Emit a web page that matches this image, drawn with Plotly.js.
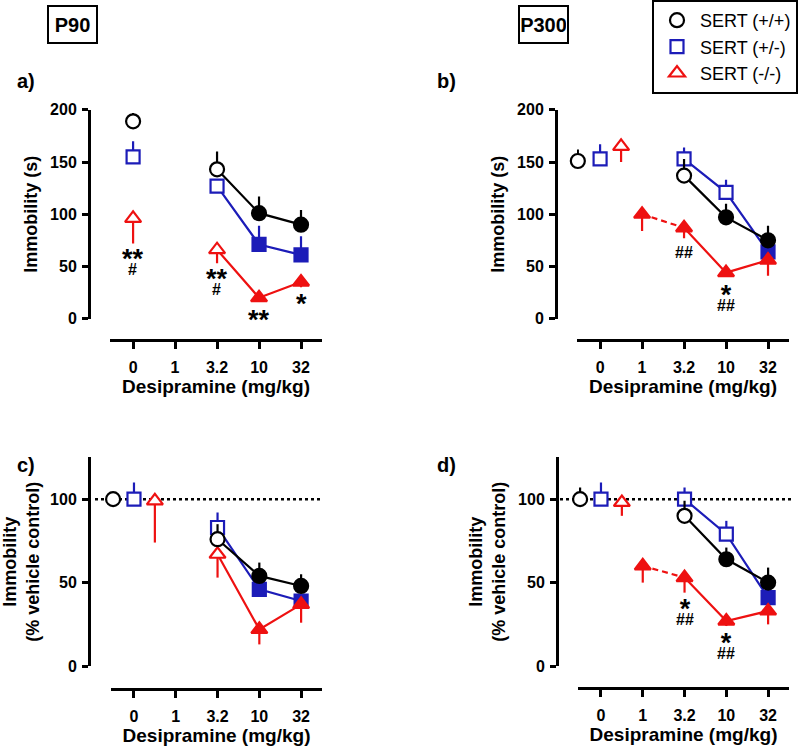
<!DOCTYPE html>
<html>
<head>
<meta charset="utf-8">
<script src="https://cdn.plot.ly/plotly-3.0.1.min.js"></script>
<style>html,body{margin:0;padding:0;background:#fff;}#chart{width:800px;height:747px;}</style>
</head>
<body>
<div id="chart"></div>
<script>
// ---- data (index aligned with doses; index 0 = vehicle) ----
const doses = ['0', '1', '3.2', '10', '32'];
const groups = ['SERT (+/+)', 'SERT (+/-)', 'SERT (-/-)'];

// Panel a: P90, immobility (s)
const a_wt = [189, null, 143, 101, 90];
const a_wt_err = [8, null, 17, 16, 14];
const a_wt_sig = [0, 0, 0, 1, 1];
const a_het = [155, null, 127, 71, 61];
const a_het_err = [15, null, 3, 18, 18];
const a_het_sig = [0, 0, 0, 1, 1];
const a_ko = [96, null, 66, 20, 35];
const a_ko_err = [24, null, 13, 3, 5];
const a_ko_sig = [0, 0, 0, 1, 1];
const a_ko_star = ['**', '', '**', '**', '*'];
const a_ko_hash = ['#', '', '#', '', ''];

// Panel b: P300, immobility (s)
const b_wt = [151, null, 137, 97, 75];
const b_wt_err = [11, null, 16, 13, 14];
const b_wt_sig = [0, 0, 0, 1, 1];
const b_het = [153, null, 153, 121, 64];
const b_het_err = [14, null, 11, 12, 3];
const b_het_sig = [0, 0, 0, 0, 1];
const b_ko = [165, 100, 87, 44, 56];
const b_ko_err = [15, 16, 10, 3, 15];
const b_ko_sig = [0, 1, 1, 1, 1];
const b_ko_star = ['', '', '', '*', ''];
const b_ko_hash = ['', '', '##', '##', ''];

// Panel c: P90, % vehicle control
const c_wt = [100, null, 76, 54, 48];
const c_wt_err = [0, null, 9, 8, 7];
const c_wt_sig = [0, 0, 0, 1, 1];
const c_het = [100, null, 83, 46, 39];
const c_het_err = [10, null, 9, 2, 2];
const c_het_sig = [0, 0, 0, 1, 1];
const c_ko = [99, null, 67, 22, 37];
const c_ko_err = [25, null, 14, 9, 11];
const c_ko_sig = [0, 0, 0, 1, 1];
const c_ko_star = ['', '', '', '', ''];
const c_ko_hash = ['', '', '', '', ''];

// Panel d: P300, % vehicle control
const d_wt = [100, null, 90, 64, 50];
const d_wt_err = [7, null, 9, 7, 9];
const d_wt_sig = [0, 0, 0, 1, 1];
const d_het = [100, null, 100, 79, 41];
const d_het_err = [10, null, 7, 8, 3];
const d_het_sig = [0, 0, 0, 0, 1];
const d_ko = [98, 60, 53, 27, 33];
const d_ko_err = [8, 10, 9, 3, 8];
const d_ko_sig = [0, 1, 1, 1, 1];
const d_ko_star = ['', '', '*', '*', ''];
const d_ko_hash = ['', '', '##', '##', ''];

// ---- layout helpers ----
const W = 800, H = 747;
const px = v => v / W;
const py = v => 1 - v / H;
const FONT = 'Arial, "Liberation Sans", sans-serif';
const BLACK = '#000000', BLUE = '#1c1cb8', RED = '#ee1111';

const panels = {
  a: {n: '', xdom: [110, 322], ydom: [318, 109], ymax: 200, yticks: [0, 50, 100, 150, 200], yPos: 89, xPos: 339, veh: [0, 0, 0],
      ytitle: 'Immobility (s)', data: [[a_wt, a_wt_err, a_wt_sig], [a_het, a_het_err, a_het_sig], [a_ko, a_ko_err, a_ko_sig]], star: a_ko_star, hash: a_ko_hash},
  b: {n: '2', xdom: [577, 789], ydom: [318, 109], ymax: 200, yticks: [0, 50, 100, 150, 200], yPos: 556, xPos: 339, veh: [-0.53, 0, 0.5],
      ytitle: 'Immobility (s)', data: [[b_wt, b_wt_err, b_wt_sig], [b_het, b_het_err, b_het_sig], [b_ko, b_ko_err, b_ko_sig]], star: b_ko_star, hash: b_ko_hash},
  c: {n: '3', xdom: [111, 322], ydom: [666, 457], ymax: 125, yticks: [0, 50, 100], yPos: 89, xPos: 689, veh: [-0.5, 0, 0.5],
      ytitle: 'Immobility<br>(% vehicle control)', data: [[c_wt, c_wt_err, c_wt_sig], [c_het, c_het_err, c_het_sig], [c_ko, c_ko_err, c_ko_sig]], star: c_ko_star, hash: c_ko_hash, ref: 100, refX: [95, 320]},
  d: {n: '4', xdom: [578, 789], ydom: [666, 457], ymax: 125, yticks: [0, 50, 100], yPos: 557, xPos: 688, veh: [-0.5, 0, 0.5],
      ytitle: 'Immobility<br>(% vehicle control)', data: [[d_wt, d_wt_err, d_wt_sig], [d_het, d_het_err, d_het_sig], [d_ko, d_ko_err, d_ko_sig]], star: d_ko_star, hash: d_ko_hash, ref: 100, refX: [560, 792]}
};

const styles = [
  {color: BLACK, symbol: 'circle', size: 14, dir: 'up'},
  {color: BLUE, symbol: 'square', size: 13, dir: 'up'},
  {color: RED, symbol: 'triangle-up', size: 14, dir: 'down'}
];

const traces = [];
const annotations = [];
const shapes = [];
const layout = {
  width: W, height: H, margin: {l: 0, r: 0, t: 0, b: 0},
  paper_bgcolor: '#fff', plot_bgcolor: 'rgba(0,0,0,0)',
  font: {family: FONT, color: BLACK},
  showlegend: true,
  legend: {x: px(652), y: py(-1), xanchor: 'left', yanchor: 'top', bordercolor: BLACK, borderwidth: 2,
           bgcolor: '#fff', font: {family: FONT, size: 18, color: BLACK}, tracegroupgap: 0, itemwidth: 36,
           entrywidth: 106},
  annotations: annotations, shapes: shapes
};

function errObj(vals, dir, color) {
  return {type: 'data', symmetric: false,
    array: vals.map(v => dir === 'up' ? v : 0),
    arrayminus: vals.map(v => dir === 'down' ? v : 0),
    color: color, thickness: 2.2, width: 0, visible: true};
}
function markerObj(st, sigs) {
  return {symbol: st.symbol, size: st.size,
    color: sigs.map(s => s ? st.color : '#ffffff'),
    line: {color: st.color, width: 2.2}};
}

const drawOrder = [1, 2, 0]; // het, ko, wt (wt on top)
Object.keys(panels).forEach(key => {
  const p = panels[key];
  const xa = 'x' + p.n, ya = 'y' + p.n;
  const pxPerUnit = (p.ydom[0] - p.ydom[1]) / p.ymax;
  layout['xaxis' + p.n] = {
    domain: [px(p.xdom[0]), px(p.xdom[1])], range: [-0.55, 4.5], anchor: 'free', position: py(p.xPos),
    tickmode: 'array', tickvals: doses.map((d, i) => i), ticktext: doses,
    showline: true, linewidth: 3, linecolor: BLACK, ticks: 'outside', ticklen: 7, tickwidth: 3, tickcolor: BLACK,
    showgrid: false, zeroline: false, fixedrange: true, ticklabelstandoff: 5,
    tickfont: {family: FONT, size: 16, weight: 'bold', color: BLACK},
    title: {text: 'Desipramine (mg/kg)', font: {family: FONT, size: 19, weight: 'bold', color: BLACK}, standoff: 1}
  };
  layout['yaxis' + p.n] = {
    domain: [py(p.ydom[0]), py(p.ydom[1])], range: [0, p.ymax], anchor: 'free', position: px(p.yPos),
    tickmode: 'array', tickvals: p.yticks,
    showline: true, linewidth: 3, linecolor: BLACK, ticks: 'outside', ticklen: 6, tickwidth: 3, tickcolor: BLACK,
    showgrid: false, zeroline: false, fixedrange: true, ticklabelstandoff: 2,
    tickfont: {family: FONT, size: 16, weight: 'bold', color: BLACK},
    title: {text: p.ytitle, font: {family: FONT, size: 18, weight: 'bold', color: BLACK}, standoff: 6}
  };
  if (p.ref !== undefined) {
    shapes.push({type: 'line', xref: 'paper', x0: px(p.refX[0]), x1: px(p.refX[1]), yref: ya, y0: p.ref, y1: p.ref,
      line: {color: BLACK, width: 2.5, dash: 'dot'}, layer: 'below'});
  }
  drawOrder.forEach(g => {
    const [vals, errs, sigs] = p.data[g];
    const st = styles[g];
    // vehicle point
    traces.push({type: 'scatter', mode: 'markers', xaxis: xa, yaxis: ya, cliponaxis: false,
      x: [p.veh[g]], y: [vals[0]], name: groups[g], legendrank: g + 1, legendgroup: 'g' + g,
      showlegend: key === 'a', marker: markerObj(st, [0]), error_y: errObj([errs[0]], st.dir, st.color), hoverinfo: 'skip'});
    // dose 1 (dashed link)
    if (vals[1] !== null) {
      traces.push({type: 'scatter', mode: 'lines', xaxis: xa, yaxis: ya, cliponaxis: false, showlegend: false,
        x: [1, 2], y: [vals[1], vals[2]], line: {color: st.color, width: 2.2, dash: '6px,4px'}, hoverinfo: 'skip'});
      traces.push({type: 'scatter', mode: 'markers', xaxis: xa, yaxis: ya, cliponaxis: false, showlegend: false,
        x: [1], y: [vals[1]], marker: markerObj(st, [sigs[1]]), error_y: errObj([errs[1]], st.dir, st.color), hoverinfo: 'skip'});
    }
    // dose-response line
    traces.push({type: 'scatter', mode: 'lines+markers', xaxis: xa, yaxis: ya, cliponaxis: false, showlegend: false,
      x: [2, 3, 4], y: vals.slice(2), line: {color: st.color, width: 2.2},
      marker: markerObj(st, sigs.slice(2)), error_y: errObj(errs.slice(2), st.dir, st.color), hoverinfo: 'skip'});
  });
  // significance marks under the SERT(-/-) points (stars over hashes in one stacked text)
  const koVals = p.data[2][0], koErr = p.data[2][1];
  koVals.forEach((v, i) => {
    if (v === null) return;
    const s = p.star[i], h = p.hash[i];
    if (!s && !h) return;
    const xv = i === 0 ? p.veh[2] : i;
    const below = Math.max(koErr[i] * pxPerUnit, 6);
    const parts = [];
    if (s) parts.push('<span style="font-size:27px">' + s + '</span>');
    if (h) parts.push('<span style="font-size:16px">' + h + '</span>');
    annotations.push({xref: xa, yref: ya, x: xv, y: v, text: parts.join('<br>'), showarrow: false,
      yanchor: 'top', valign: 'top', borderpad: 0,
      yshift: -(below + (s ? 0 : 5)), font: {family: FONT, size: 5, weight: 'bold', color: BLACK}});
  });
});

// panel letters and age boxes
[['a)', 15, 80], ['b)', 435, 80], ['c)', 15, 465], ['d)', 435, 465]].forEach(t => {
  annotations.push({xref: 'paper', yref: 'paper', x: px(t[1]), y: py(t[2]), xanchor: 'left', yanchor: 'middle',
    text: t[0], showarrow: false, font: {family: FONT, size: 20, weight: 'bold', color: BLACK}});
});
[['P90', 72.5, 23.5], ['P300', 543, 24]].forEach(t => {
  annotations.push({xref: 'paper', yref: 'paper', x: px(t[1]), y: py(t[2]), xanchor: 'center', yanchor: 'middle',
    text: t[0], showarrow: false, width: 45, height: 33, borderpad: 1, bordercolor: BLACK, borderwidth: 2,
    font: {family: FONT, size: 20, weight: 'bold', color: BLACK}});
});

Plotly.newPlot('chart', traces, layout, {staticPlot: true, displayModeBar: false});
</script>
</body>
</html>
